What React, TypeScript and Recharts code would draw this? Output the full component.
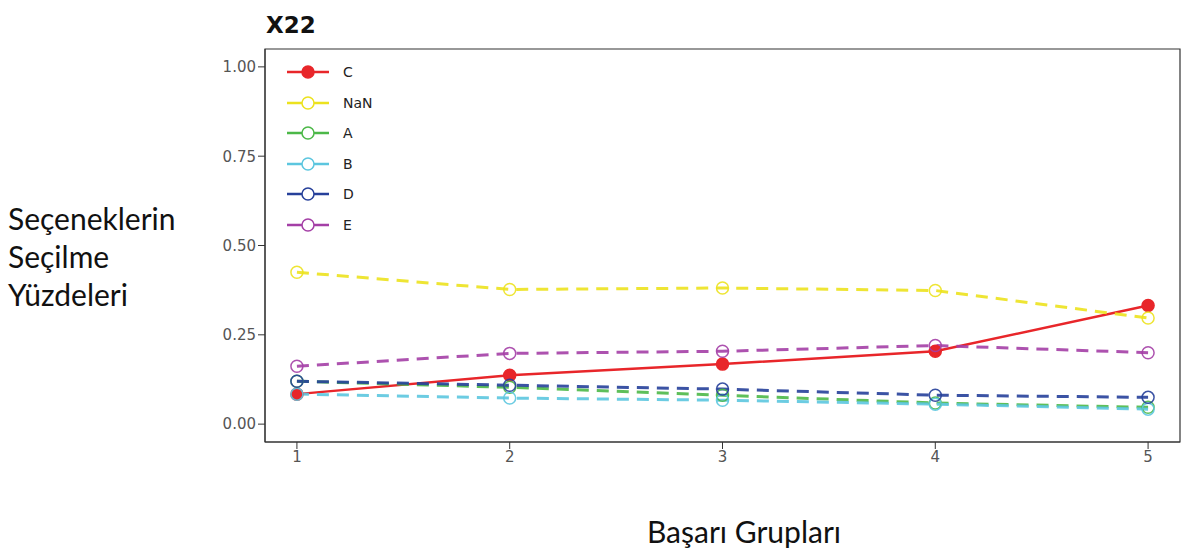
import React from "react";
import { LineChart, Line, XAxis, YAxis, ReferenceArea } from "recharts";

// Başarı grupları (x) ve her seçeneğin seçilme oranı
const groups = [1, 2, 3, 4, 5];
const seriesC = [0.084, 0.137, 0.168, 0.204, 0.332];
const seriesNaN = [0.425, 0.377, 0.381, 0.374, 0.297];
const seriesA = [0.12, 0.103, 0.081, 0.059, 0.047];
const seriesB = [0.084, 0.073, 0.067, 0.056, 0.042];
const seriesD = [0.12, 0.109, 0.098, 0.081, 0.075];
const seriesE = [0.162, 0.198, 0.204, 0.22, 0.2];
const yTicks = [0, 0.25, 0.5, 0.75, 1.0];
const xTicks = [1, 2, 3, 4, 5];

const series = [
  { key: "C", values: seriesC, color: "#e8262a", dashed: false },
  { key: "NaN", values: seriesNaN, color: "#ece21e", dashed: true },
  { key: "A", values: seriesA, color: "#4cb848", dashed: true },
  { key: "B", values: seriesB, color: "#5cc6df", dashed: true },
  { key: "D", values: seriesD, color: "#26409a", dashed: true },
  { key: "E", values: seriesE, color: "#a43fa6", dashed: true },
];

const data = groups.map((g, i) => {
  const row: Record<string, number> = { group: g };
  series.forEach((s) => (row[s.key] = s.values[i]));
  return row;
});

const tickStyle = { fill: "#555", fontSize: 15, fontFamily: "DejaVu Sans" };

// legend sits inside the plot, top-left
const LegendBox = () => (
  <div style={{ position: "absolute", left: 285, top: 57, fontFamily: "DejaVu Sans", fontSize: 14, color: "#222" }}>
    {series.map((s) => (
      <div key={s.key} style={{ display: "flex", alignItems: "center", height: 30.5 }}>
        <svg width={46} height={16}>
          <line x1={2} y1={8} x2={44} y2={8} stroke={s.color} strokeWidth={2.5} />
          <circle cx={23} cy={8} r={6} fill={s.dashed ? "#fff" : s.color} stroke={s.color} strokeWidth={1.5} />
        </svg>
        <span style={{ marginLeft: 12 }}>{s.key}</span>
      </div>
    ))}
  </div>
);

export default function App() {
  return (
    <div style={{ position: "absolute", left: 0, top: 0, width: 1184, height: 551, background: "#fff" }}>
      <div
        style={{
          position: "absolute",
          left: 266,
          top: 12,
          fontFamily: "DejaVu Sans",
          fontWeight: "bold",
          fontSize: 23,
          color: "#111",
        }}
      >
        X22
      </div>
      <div
        style={{
          position: "absolute",
          left: 8,
          top: 199,
          fontFamily: "Lato",
          fontSize: 30,
          lineHeight: "38px",
          color: "#111",
        }}
      >
        Seçeneklerin
        <br />
        Seçilme
        <br />
        Yüzdeleri
      </div>
      <div
        style={{
          position: "absolute",
          left: 544,
          width: 400,
          top: 512,
          textAlign: "center",
          fontFamily: "Lato",
          fontSize: 30,
          lineHeight: "38px",
          color: "#111",
        }}
      >
        Başarı Grupları
      </div>
      <LineChart width={1184} height={551} data={data} margin={{ top: 49, right: 4, bottom: 79, left: 205 }}>
        <XAxis
          dataKey="group"
          type="number"
          domain={[0.85, 5.15]}
          ticks={xTicks}
          tick={tickStyle}
          tickSize={7}
          tickLine={{ stroke: "#333" }}
          axisLine={{ stroke: "#333" }}
          height={30}
        />
        <YAxis
          type="number"
          domain={[-0.05, 1.05]}
          ticks={yTicks}
          tickFormatter={(v: number) => v.toFixed(2)}
          tick={tickStyle}
          tickSize={7}
          tickLine={{ stroke: "#333" }}
          axisLine={{ stroke: "#333" }}
          width={60}
        />
        <ReferenceArea x1={0.85} x2={5.15} y1={-0.05} y2={1.05} fill="none" stroke="#333" strokeWidth={1.2} ifOverflow="visible" />
        {series.map((s) => (
          <Line
            key={s.key}
            dataKey={s.key}
            type="linear"
            stroke={s.color}
            strokeWidth={s.dashed ? 3 : 2.5}
            strokeDasharray={s.dashed ? "12 8" : undefined}
            strokeOpacity={s.dashed ? 0.9 : 1}
            dot={{ r: 6, fill: s.dashed ? "#fff" : s.color, fillOpacity: s.dashed ? 0 : 1, stroke: s.color, strokeWidth: 1.5, strokeDasharray: "" }}
            isAnimationActive={false}
          />
        ))}
      </LineChart>
      <LegendBox />
    </div>
  );
}
